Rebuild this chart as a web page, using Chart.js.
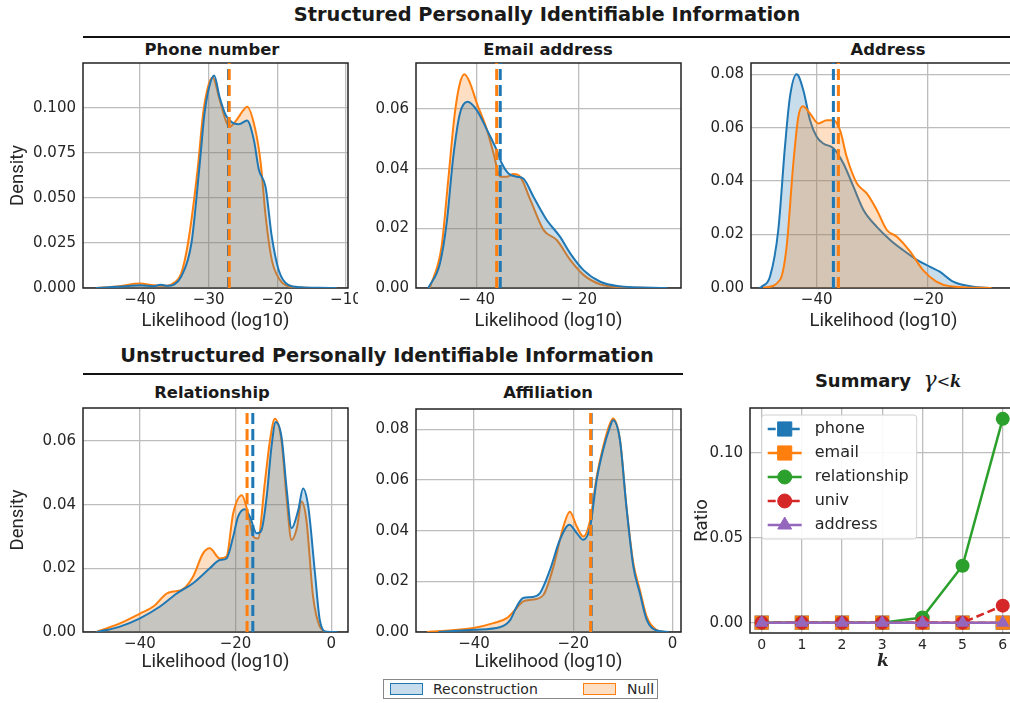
<!DOCTYPE html>
<html>
<head>
<meta charset="utf-8">
<script src="https://cdn.jsdelivr.net/npm/chart.js@4.4.0/dist/chart.umd.min.js"></script>
<style>
  html, body { margin: 0; padding: 0; background: #fff; width: 1010px; height: 703px; overflow: hidden; }
  #fig { position: relative; width: 1010px; height: 703px; overflow: hidden; }
  canvas { position: absolute; }
  .t { position: absolute; font-family: "DejaVu Sans", sans-serif; font-weight: bold; color: #1a1a1a; text-align: center; white-space: nowrap; }
  .rule { position: absolute; height: 0; border-top: 2px solid #111; }
  .m { font-family: "DejaVu Serif", serif; }
  #bottomLegend { position: absolute; left: 383px; top: 679px; width: 273px; height: 18px; border: 1px solid #888; background: #fff;
    font-family: "DejaVu Sans", sans-serif; font-size: 14px; color: #262626; }
  #bottomLegend .sw { position: absolute; top: 3px; width: 31px; height: 10px; border: 1.5px solid; }
  #bottomLegend .lb { position: absolute; top: 0; line-height: 18px; }
</style>
</head>
<body>
<div id="fig">
  <div class="t" style="left:247px;top:3px;width:600px;font-size:19.4px;line-height:24px;">Structured Personally Identifiable Information</div>
  <div class="rule" style="left:83px;top:36px;width:927px;"></div>
  <div class="t" style="left:62px;top:39px;width:300px;font-size:16.4px;line-height:22px;">Phone number</div>
  <div class="t" style="left:398px;top:39px;width:300px;font-size:16.4px;line-height:22px;">Email address</div>
  <div class="t" style="left:738px;top:39px;width:300px;font-size:16.4px;line-height:22px;">Address</div>

  <div class="t" style="left:87px;top:344px;width:600px;font-size:19.4px;line-height:24px;">Unstructured Personally Identifiable Information</div>
  <div class="rule" style="left:83px;top:373px;width:600px;"></div>
  <div class="t" style="left:62px;top:382px;width:300px;font-size:16.4px;line-height:22px;">Relationship</div>
  <div class="t" style="left:398px;top:382px;width:300px;font-size:16.4px;line-height:22px;">Affiliation</div>
  <div class="t" style="left:738px;top:367px;width:300px;font-size:18px;line-height:26px;">Summary&nbsp;&nbsp;<span class="m" style="font-style:italic;font-weight:normal;font-size:22px;">γ</span><span class="m" style="font-size:16px;font-weight:normal;">&lt;</span><span class="m" style="font-size:16px;font-style:italic;">k</span></div>

  <canvas id="phone"></canvas>
  <canvas id="email"></canvas>
  <canvas id="address"></canvas>
  <canvas id="relationship"></canvas>
  <canvas id="affiliation"></canvas>
  <canvas id="summary"></canvas>

  <div id="bottomLegend">
    <div class="sw" style="left:6px;border-color:#1f77b4;background:rgba(31,119,180,0.25);"></div>
    <div class="lb" style="left:49px;">Reconstruction</div>
    <div class="sw" style="left:199px;border-color:#ff7f0e;background:rgba(255,127,14,0.25);"></div>
    <div class="lb" style="left:243px;">Null</div>
  </div>
</div>

<script>
// ---- data ----
// Phone number
var phoneReconX = [-46.4, -44, -42, -40, -38, -37, -36, -35, -34, -32.5, -31.3, -30.6, -29.9, -29.2, -28.4, -27.5, -26.6, -25.6, -24.4, -23.4, -22.7, -21.7, -20.8, -19.8, -18.4, -16.5, -14, -11.4];
var phoneReconY = [0, 0.0005, 0.001, 0.0015, 0.001, 0.0018, 0.0012, 0.002, 0.0063, 0.025, 0.069, 0.097, 0.112, 0.118, 0.106, 0.096, 0.092, 0.091, 0.093, 0.082, 0.066, 0.056, 0.0285, 0.01, 0.0017, 0.0004, 0.0001, 0];
var phoneNullX = [-46.4, -43, -40, -38, -36, -35, -34, -33, -31.6, -30.8, -30, -29.4, -28.5, -27.5, -27, -26, -25, -24.4, -23.2, -22.4, -21.7, -20.8, -19.8, -18.4, -16, -11.4];
var phoneNullY = [0, 0.001, 0.0025, 0.0015, 0.0012, 0.003, 0.008, 0.025, 0.066, 0.097, 0.113, 0.117, 0.106, 0.093, 0.0895, 0.093, 0.0985, 0.1007, 0.088, 0.069, 0.04, 0.0156, 0.0056, 0.001, 0.0002, 0];
var phoneMeans = [-27.1, -27.0]; // reconstruction, null

// Email address
var emailReconX = [-49.5, -47.2, -45.9, -44.6, -43.3, -41.8, -40, -38, -36.1, -35.1, -33.8, -32.2, -30.9, -28.9, -26.3, -23.7, -21.7, -19.1, -15.8, -12.5, -2.7];
var emailReconY = [0, 0.0083, 0.0217, 0.044, 0.0585, 0.0624, 0.0596, 0.053, 0.0462, 0.0418, 0.0384, 0.0373, 0.0367, 0.0306, 0.0228, 0.0172, 0.0116, 0.006, 0.0021, 0.0007, 0];
var emailNullX = [-49.2, -46.9, -45.6, -44.3, -43.3, -42.4, -41.3, -40, -38, -36.7, -35.4, -34.1, -32.8, -31.5, -29.5, -26.9, -24.3, -21.7, -19.1, -15.8, -12.5, -6];
var emailNullY = [0, 0.0138, 0.036, 0.0585, 0.0686, 0.0716, 0.0686, 0.062, 0.053, 0.045, 0.0373, 0.0373, 0.0382, 0.0373, 0.0295, 0.0194, 0.016, 0.0094, 0.0044, 0.0012, 0.0003, 0];
var emailMeans = [-35.4, -36.1];

// Address
var addressReconX = [-50.3, -49.9, -48.4, -46.9, -45.7, -44.8, -43.6, -42.4, -41.2, -40, -38.8, -37, -35.2, -33.4, -31.6, -29.2, -26.8, -24.5, -22, -19.7, -17.9, -15.5, -11.9, -8.6];
var addressReconY = [0, 0.0005, 0.0042, 0.0217, 0.0529, 0.0716, 0.08, 0.074, 0.0628, 0.0566, 0.0541, 0.0523, 0.0466, 0.0379, 0.0292, 0.0229, 0.018, 0.0142, 0.0105, 0.008, 0.0061, 0.0024, 0.0005, 0];
var addressNullX = [-49.6, -46.6, -45.4, -44.2, -43.3, -42.5, -41.2, -39.7, -38.2, -37, -35.8, -34.6, -32.8, -31, -29.2, -27.4, -25.6, -23.2, -20.9, -18.5, -16.1, -8.6];
var addressNullY = [0, 0.003, 0.0155, 0.0466, 0.064, 0.068, 0.0653, 0.0616, 0.0628, 0.0628, 0.059, 0.049, 0.0392, 0.0354, 0.0292, 0.0217, 0.0192, 0.0136, 0.0067, 0.0024, 0.0007, 0];
var addressMeans = [-37.0, -36.1];

// Relationship
var relReconX = [-49.1, -47, -44.2, -40, -35.8, -32.3, -28.9, -25.4, -23.3, -21.9, -20.5, -19.5, -18.1, -17, -15.6, -14.6, -13.5, -12.5, -11.6, -10.4, -9.3, -8.3, -6.9, -5.9, -4.8, -3.4, -2.4, -1, 1.3];
var relReconY = [0, 0.0006, 0.0017, 0.0043, 0.008, 0.0121, 0.0153, 0.02, 0.0226, 0.0231, 0.03, 0.0362, 0.0386, 0.0362, 0.031, 0.032, 0.0425, 0.0582, 0.066, 0.0613, 0.0446, 0.0326, 0.0383, 0.0451, 0.0393, 0.0184, 0.0038, 0.0001, 0];
var relNullX = [-49.1, -44.2, -40, -37.2, -34.4, -33.1, -31.3, -28.9, -26.8, -25.4, -23.3, -21.9, -20.5, -18.7, -17.4, -16.3, -15.3, -13.9, -12.8, -11.8, -10.4, -9.3, -8.3, -7.2, -6.2, -5.2, -3.8, -2.4, -1];
var relNullY = [0, 0.0027, 0.0058, 0.008, 0.0121, 0.0127, 0.0132, 0.0174, 0.0247, 0.0263, 0.0231, 0.0237, 0.0373, 0.043, 0.0373, 0.03, 0.0294, 0.0467, 0.0603, 0.067, 0.06, 0.0414, 0.0289, 0.0326, 0.041, 0.0352, 0.0111, 0.0017, 0];
var relMeans = [-16.4, -17.6];

// Affiliation
var affReconX = [-47.2, -40.1, -34.7, -32.7, -31.4, -30.1, -28.4, -26.7, -24.7, -22.7, -20.8, -19.3, -18, -16.6, -15.3, -14, -12.6, -12, -10.6, -9.3, -7.9, -6.6, -5.2, -3.2, -0.8];
var affReconY = [0, 0.0009, 0.002, 0.0048, 0.0101, 0.0134, 0.0138, 0.0154, 0.0245, 0.0364, 0.0423, 0.039, 0.0364, 0.0416, 0.06, 0.0718, 0.081, 0.0836, 0.0758, 0.0495, 0.0258, 0.0154, 0.0048, 0.0006, 0];
var affNullX = [-49.5, -40.1, -36.1, -33.4, -31.4, -30.1, -28.1, -26, -24, -22, -20.7, -19.3, -18, -16.6, -15.3, -14, -12.6, -12, -10.6, -9.3, -7.9, -6.6, -5.2, -3.2, -1.4];
var affNullY = [0, 0.0016, 0.0035, 0.0055, 0.0095, 0.0121, 0.0128, 0.0147, 0.0258, 0.0416, 0.0475, 0.0416, 0.0377, 0.0442, 0.0612, 0.073, 0.0823, 0.0843, 0.0758, 0.0495, 0.0271, 0.0167, 0.006, 0.0008, 0];
var affMeans = [-16.4, -16.5];

// Summary gamma_<k
var kValues = [0, 1, 2, 3, 4, 5, 6];
var phoneRatio = [0, 0, 0, 0, 0, 0, 0];
var emailRatio = [0, 0, 0, 0, 0, 0, 0];
var relationshipRatio = [0, 0, 0, 0, 0.003, 0.0335, 0.12];
var univRatio = [0, 0, 0, 0, 0, 0, 0.01];
var addressRatio = [0, 0, 0, 0, 0, 0, 0];

// tick positions
var phoneXTicks = [-40, -30, -20, -10], phoneYTicks = [0, 0.025, 0.05, 0.075, 0.1];
var emailXTicks = [-40, -20], emailYTicks = [0, 0.02, 0.04, 0.06];
var addressXTicks = [-40, -20], addressYTicks = [0, 0.02, 0.04, 0.06, 0.08];
var relXTicks = [-40, -20, 0], relYTicks = [0, 0.02, 0.04, 0.06];
var affXTicks = [-40, -20, 0], affYTicks = [0, 0.02, 0.04, 0.06, 0.08];
var summaryXTicks = [0, 1, 2, 3, 4, 5, 6], summaryYTicks = [0, 0.05, 0.1];

// ---- styling ----
var blue = '#1f77b4', orange = '#ff7f0e';
var blueFill = 'rgba(31,119,180,0.25)', orangeFill = 'rgba(255,127,14,0.25)';
var textColor = '#262626';
var gridColor = '#bdbdbd';
var tickFont = { family: 'DejaVu Sans', size: 15 };
var labelFont = { family: 'Roboto', size: 18.5 };

function fmt(decimals, sep) {
  return function (v) {
    return (v < 0 ? '\u2212' + sep : '') + Math.abs(v).toFixed(decimals);
  };
}

function pts(xs, ys) {
  return xs.map(function (x, i) { return { x: x, y: ys[i] }; });
}

// spines on all four sides, drawn under the data
var framePlugin = {
  id: 'frame',
  beforeDatasetsDraw: function (chart) {
    var a = chart.chartArea, ctx = chart.ctx;
    ctx.save();
    ctx.strokeStyle = '#222';
    ctx.lineWidth = 1.5;
    ctx.strokeRect(a.left, a.top, a.right - a.left, a.bottom - a.top);
    ctx.restore();
  }
};

// matplotlib-like legend (line sample + marker) inside the plot area
var insideLegend = {
  id: 'insideLegend',
  afterDatasetsDraw: function (chart, args, opts) {
    if (!opts.display) return;
    var ctx = chart.ctx, a = chart.chartArea;
    var x0 = a.left + opts.x, y0 = a.top + opts.y, rowH = opts.rowHeight;
    var sets = chart.data.datasets;
    ctx.save();
    ctx.fillStyle = 'rgba(255,255,255,0.9)';
    ctx.strokeStyle = '#d0d0d0';
    ctx.lineWidth = 1;
    ctx.beginPath();
    ctx.roundRect(x0, y0, opts.width, rowH * sets.length + 4, 3);
    ctx.fill();
    ctx.stroke();
    sets.forEach(function (ds, i) {
      var cy = y0 + 2 + rowH * (i + 0.5);
      ctx.setLineDash(ds.borderDash || []);
      ctx.strokeStyle = ds.borderColor;
      ctx.lineWidth = ds.borderWidth;
      ctx.beginPath();
      ctx.moveTo(x0 + 6, cy);
      ctx.lineTo(x0 + 40, cy);
      ctx.stroke();
      ctx.setLineDash([]);
      ctx.fillStyle = ds.backgroundColor;
      ctx.lineWidth = 1;
      Chart.helpers.drawPoint(ctx, { pointStyle: ds.pointStyle, radius: ds.pointRadius, rotation: 0, borderWidth: 1 }, x0 + 23, cy);
      ctx.fillStyle = textColor;
      ctx.font = '16px "DejaVu Sans"';
      ctx.textBaseline = 'middle';
      ctx.fillText(ds.label, x0 + 53, cy);
    });
    ctx.restore();
  }
};

// place a canvas so that its plot area lands on (L,T)-(R,B)
function placeCanvas(id, g) {
  var c = document.getElementById(id);
  c.width = g.R - g.left + g.rp;
  c.height = g.bottom - (g.T - 4);
  c.style.left = g.left + 'px';
  c.style.top = (g.T - 4) + 'px';
  return c;
}

function xAxis(min, max, ticks, decimals, sep, g, title, titleFont) {
  return {
    type: 'linear', min: min, max: max,
    afterBuildTicks: function (s) { s.ticks = ticks.map(function (v) { return { value: v }; }); },
    afterFit: function (s) { s.height = g.bottom - g.B; s.paddingLeft = 0; s.paddingRight = 0; },
    ticks: { callback: fmt(decimals, sep), font: tickFont, color: textColor, padding: 3, maxRotation: 0, autoSkip: false },
    grid: { color: gridColor, lineWidth: 1.3, drawTicks: false },
    border: { display: false },
    title: { display: true, text: title, font: titleFont || labelFont, color: textColor, padding: { top: 0, bottom: 6 } }
  };
}

function yAxis(min, max, ticks, decimals, g, title, titlePad) {
  return {
    type: 'linear', min: min, max: max,
    afterBuildTicks: function (s) { s.ticks = ticks.map(function (v) { return { value: v }; }); },
    afterFit: function (s) { s.width = g.L - g.left; s.paddingTop = 0; s.paddingBottom = 0; },
    ticks: { callback: fmt(decimals, ''), font: tickFont, color: textColor, padding: 7, autoSkip: false },
    grid: { color: gridColor, lineWidth: 1.3, drawTicks: false },
    border: { display: false },
    title: { display: !!title, text: title || '', font: labelFont, color: textColor, padding: { top: titlePad || 0, bottom: 0 } }
  };
}

function kdeChart(id, p) {
  var g = p.geom;
  var canvas = placeCanvas(id, g);
  var recon = {
    label: 'Reconstruction', data: pts(p.reconX, p.reconY),
    borderColor: blue, backgroundColor: blueFill, borderWidth: 2, fill: 'origin',
    pointRadius: 0, cubicInterpolationMode: 'monotone'
  };
  var nul = {
    label: 'Null', data: pts(p.nullX, p.nullY),
    borderColor: orange, backgroundColor: orangeFill, borderWidth: 2, fill: 'origin',
    pointRadius: 0, cubicInterpolationMode: 'monotone'
  };
  var reconMean = {
    label: 'Reconstruction mean', data: [{ x: p.means[0], y: 0 }, { x: p.means[0], y: p.yMax }],
    borderColor: blue, borderWidth: 3, borderDash: [11, 5], pointRadius: 0, fill: false
  };
  var nullMean = {
    label: 'Null mean', data: [{ x: p.means[1], y: 0 }, { x: p.means[1], y: p.yMax }],
    borderColor: orange, borderWidth: 3, borderDash: [11, 5], pointRadius: 0, fill: false
  };
  // first dataset is painted last (on top)
  var datasets = p.nullOnTop ? [reconMean, nullMean, nul, recon] : [nullMean, reconMean, recon, nul];
  return new Chart(canvas, {
    type: 'line',
    data: { datasets: datasets },
    options: {
      responsive: false, animation: false, devicePixelRatio: 1,
      layout: { padding: { top: 4, right: g.rp, left: 0, bottom: 0 }, autoPadding: false },
      plugins: { legend: { display: false }, tooltip: { enabled: false }, insideLegend: { display: false } },
      scales: {
        x: xAxis(p.xMin, p.xMax, p.xTicks, 0, p.sep || '', g, 'Likelihood (log10)'),
        y: yAxis(0, p.yMax, p.yTicks, p.yDecimals, g, p.yTitle, 7)
      }
    },
    plugins: [framePlugin]
  });
}

Chart.register(insideLegend);

kdeChart('phone', {
  geom: { L: 83, T: 63, R: 348, B: 288, left: 0, bottom: 338, rp: 10 },
  reconX: phoneReconX, reconY: phoneReconY, nullX: phoneNullX, nullY: phoneNullY, means: phoneMeans,
  xMin: -48.3, xMax: -9.7, yMax: 0.125, xTicks: phoneXTicks, yTicks: phoneYTicks, yDecimals: 3, yTitle: 'Density'
});
kdeChart('email', {
  geom: { L: 416, T: 63, R: 681, B: 288, left: 360, bottom: 338, rp: 10 },
  reconX: emailReconX, reconY: emailReconY, nullX: emailNullX, nullY: emailNullY, means: emailMeans,
  xMin: -51.9, xMax: 0, yMax: 0.0754, xTicks: emailXTicks, yTicks: emailYTicks, yDecimals: 2, sep: ' '
});
kdeChart('address', {
  geom: { L: 751, T: 63, R: 1016, B: 288, left: 700, bottom: 338, rp: 0 },
  reconX: addressReconX, reconY: addressReconY, nullX: addressNullX, nullY: addressNullY, means: addressMeans,
  xMin: -51.8, xMax: -4.2, yMax: 0.0842, xTicks: addressXTicks, yTicks: addressYTicks, yDecimals: 2, nullOnTop: true
});
kdeChart('relationship', {
  geom: { L: 83, T: 408, R: 348, B: 632, left: 0, bottom: 679, rp: 10 },
  reconX: relReconX, reconY: relReconY, nullX: relNullX, nullY: relNullY, means: relMeans,
  xMin: -51.9, xMax: 3.5, yMax: 0.0704, xTicks: relXTicks, yTicks: relYTicks, yDecimals: 2, yTitle: 'Density'
});
kdeChart('affiliation', {
  geom: { L: 416, T: 409, R: 681, B: 632, left: 360, bottom: 679, rp: 10 },
  reconX: affReconX, reconY: affReconY, nullX: affNullX, nullY: affNullY, means: affMeans,
  xMin: -51.7, xMax: 1.7, yMax: 0.088, xTicks: affXTicks, yTicks: affYTicks, yDecimals: 2
});

// Summary panel
(function () {
  var g = { L: 750, T: 408, R: 1016, B: 633, left: 690, bottom: 678, rp: 0 };
  var canvas = placeCanvas('summary', g);
  function series(label, values, color, style, radius, dash, order) {
    return {
      label: label, data: pts(kValues, values), borderColor: color, backgroundColor: color,
      borderWidth: 2.5, borderDash: dash, pointStyle: style, pointRadius: radius,
      pointBorderWidth: 0, fill: false, order: order
    };
  }
  var kFont = { family: 'DejaVu Serif', size: 17, style: 'italic', weight: 'bold' };
  var xs = xAxis(-0.29, 6.33, summaryXTicks, 0, '', g, 'k', kFont);
  xs.ticks.font = { family: 'DejaVu Sans', size: 14 };
  xs.ticks.padding = 4;
  new Chart(canvas, {
    type: 'line',
    data: {
      datasets: [
        series('phone', phoneRatio, '#1f77b4', 'rect', 10, [8, 4], 5),
        series('email', emailRatio, '#ff7f0e', 'rect', 10, [], 4),
        series('relationship', relationshipRatio, '#2ca02c', 'circle', 7, [], 3),
        series('univ', univRatio, '#d62728', 'circle', 7, [8, 4], 2),
        series('address', addressRatio, '#9467bd', 'triangle', 8, [], 1)
      ]
    },
    options: {
      responsive: false, animation: false, devicePixelRatio: 1,
      layout: { padding: { top: 4, right: 0, left: 0, bottom: 0 }, autoPadding: false },
      plugins: {
        legend: { display: false }, tooltip: { enabled: false },
        insideLegend: { display: true, x: 11.7, y: 7, width: 155, rowHeight: 24 }
      },
      scales: {
        x: xs,
        y: yAxis(-0.0061, 0.1264, summaryYTicks, 2, g, 'Ratio', 1.5)
      }
    },
    plugins: [framePlugin]
  });
})();
</script>
</body>
</html>
